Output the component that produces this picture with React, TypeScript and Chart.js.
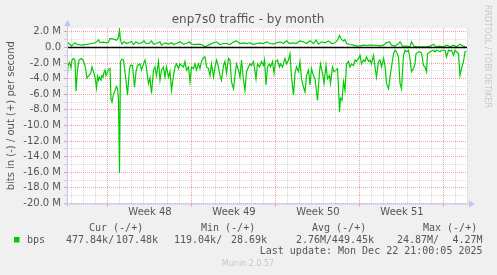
import React, { useEffect, useRef } from "react";
import { Chart, registerables } from "chart.js";

Chart.register(...registerables);

// ---------- data ----------
const TITLE = "enp7s0 traffic - by month";
const Y_TITLE = "bits in (-) / out (+) per second";

const windowHours = 800; // x axis spans 800 hours (one sample ≈ 2 h)
const weekLabels = ["Week 48", "Week 49", "Week 50", "Week 51"];
const weekLabelHours = [166, 334, 502, 670];
const weekStartHours = [80, 248, 416, 584, 752];

const yMin = -20;
const yMax = 2.5;
const yMajorTicks = [2, 0, -2, -4, -6, -8, -10, -12, -14, -16, -18, -20];
const yMinorTicks = [1, -1, -3, -5, -7, -9, -11, -13, -15, -17, -19];

// outbound (+), in M bits/s
const outHours = [0, 2, 6, 9, 13, 16, 19, 23, 29, 36, 43, 49, 56, 59, 63, 66, 73, 79, 83, 86, 93, 99, 103, 105, 107, 110, 114, 119, 125, 129, 133, 138, 143, 149, 154, 158, 164, 169, 173, 179, 186, 189, 196, 203, 209, 213, 219, 226, 233, 239, 245, 249, 256, 263, 269, 276, 283, 293, 299, 306, 313, 319, 326, 333, 339, 346, 353, 359, 366, 373, 379, 386, 393, 399, 406, 413, 419, 426, 433, 439, 445, 451, 458, 466, 473, 479, 486, 493, 498, 503, 509, 516, 523, 529, 536, 541, 545, 549, 553, 556, 559, 566, 573, 579, 586, 593, 599, 606, 613, 619, 626, 633, 639, 645, 649, 656, 663, 666, 671, 678, 686, 689, 694, 699, 706, 713, 719, 726, 733, 738, 745, 753, 759, 766, 773, 779, 786, 793, 797];
const outValues = [0.51, 0.6, 0.38, 0.17, 0.43, 0.6, 0.43, 0.38, 0.3, 0.38, 0.43, 0.51, 0.6, 0.73, 0.98, 0.64, 0.68, 0.6, 0.68, 1.15, 1.07, 0.94, 1.28, 2.31, 0.94, 0.43, 0.73, 0.51, 0.64, 0.77, 0.38, 0.73, 0.51, 0.6, 0.85, 0.51, 0.51, 0.85, 0.43, 0.51, 0.73, 0.3, 0.6, 0.43, 0.6, 0.38, 0.51, 0.73, 0.43, 0.51, 0.73, 0.43, 0.38, 0.43, 0.38, 0.09, 0.3, 0.6, 0.73, 0.38, 0.51, 0.51, 0.38, 0.73, 0.85, 0.51, 0.6, 0.51, 0.6, 0.38, 0.51, 0.6, 0.51, 0.73, 0.51, 0.43, 0.6, 0.73, 0.51, 0.85, 0.51, 0.6, 0.51, 0.85, 0.73, 0.51, 0.85, 0.51, 0.94, 0.43, 0.73, 0.6, 0.85, 0.51, 0.6, 0.94, 1.54, 1.03, 0.85, 1.03, 0.51, 0.38, 0.3, 0.17, 0.21, 0.3, 0.26, 0.3, 0.3, 0.26, 0.21, 0.3, 0.6, 0.73, 0.3, 0.17, 0.51, 0.73, 0.17, 0.17, 0.09, 0.73, 0.17, 0.09, 0.09, 0.09, 0.09, 0.17, 0.43, 0.09, 0.17, 0.09, 0.3, 0.09, 0.3, 0.09, 0.43, 0.17, 0.09];

// inbound (-), in M bits/s
const inHours = [0, 2, 5, 8, 10, 13, 16, 18, 21, 24, 28, 32, 36, 40, 44, 48, 50, 52, 56, 59, 61, 63, 65, 68, 70, 72, 74, 76, 78, 80, 83, 86, 88, 90, 93, 96, 99, 101, 103, 105, 107, 110, 113, 118, 121, 125, 127, 131, 135, 138, 141, 146, 149, 153, 156, 159, 163, 166, 169, 173, 176, 179, 183, 186, 189, 193, 196, 199, 203, 206, 209, 213, 216, 219, 223, 226, 229, 233, 236, 239, 243, 246, 249, 253, 256, 259, 263, 266, 269, 273, 276, 279, 283, 286, 289, 293, 296, 299, 303, 306, 309, 313, 316, 319, 323, 326, 329, 333, 336, 339, 343, 346, 349, 353, 356, 359, 363, 366, 369, 373, 376, 378, 381, 385, 389, 393, 395, 398, 401, 405, 407, 411, 414, 417, 421, 425, 427, 431, 436, 439, 443, 446, 449, 453, 456, 459, 463, 466, 469, 473, 476, 479, 483, 486, 489, 493, 496, 501, 505, 507, 511, 514, 518, 521, 525, 527, 531, 534, 538, 541, 543, 545, 547, 550, 553, 556, 559, 563, 566, 569, 573, 576, 579, 583, 586, 589, 593, 596, 599, 603, 606, 609, 613, 616, 619, 623, 626, 629, 633, 636, 639, 643, 646, 649, 653, 656, 659, 663, 666, 669, 673, 676, 679, 683, 686, 689, 693, 696, 698, 703, 706, 709, 713, 716, 719, 721, 726, 729, 733, 736, 739, 743, 746, 749, 753, 756, 759, 763, 766, 769, 773, 776, 779, 783, 786, 789, 793, 796, 799];
const inValues = [-4.8, -2.3, -1.9, -2.6, -1.6, -1.4, -1.6, -5.6, -2.9, -1.6, -1.4, -1.6, -2.3, -3.9, -3.6, -3.2, -2.5, -2.9, -3.8, -5.2, -3.7, -4.2, -3.8, -4.2, -3.6, -3.8, -3.2, -2.9, -3.6, -3.3, -2.8, -2.7, -6.6, -7.0, -6.0, -5.5, -5.0, -5.3, -6.6, -16.1, -1.8, -1.5, -1.6, -4.2, -6.1, -2.7, -2.3, -2.3, -5.1, -3.1, -2.3, -2.1, -2.9, -2.1, -1.6, -2.7, -4.6, -3.9, -5.9, -2.9, -2.5, -3.6, -1.8, -4.2, -2.9, -2.5, -3.8, -2.5, -3.8, -3.1, -5.5, -3.6, -2.5, -2.1, -2.7, -2.1, -2.3, -2.5, -1.8, -2.9, -2.5, -4.4, -2.5, -2.7, -2.1, -2.9, -2.1, -2.7, -1.8, -1.3, -1.2, -2.5, -2.7, -3.6, -2.1, -3.8, -2.5, -1.6, -2.5, -3.6, -4.2, -2.3, -1.8, -3.3, -1.4, -1.6, -4.4, -5.3, -3.6, -2.1, -2.9, -3.8, -1.6, -4.2, -5.5, -3.1, -2.5, -2.1, -2.3, -1.8, -3.1, -4.0, -2.1, -2.5, -1.8, -2.3, -1.6, -4.8, -2.5, -2.1, -2.5, -1.8, -3.3, -1.8, -1.6, -2.5, -2.1, -2.5, -1.4, -2.1, -1.6, -0.8, -3.8, -6.1, -3.3, -2.5, -3.1, -1.8, -4.0, -5.1, -5.7, -3.6, -2.9, -4.8, -2.7, -3.6, -4.0, -6.8, -3.1, -2.1, -3.3, -4.6, -2.3, -4.0, -3.6, -4.6, -2.5, -3.1, -2.9, -2.7, -5.1, -8.3, -6.5, -6.8, -4.4, -5.5, -2.1, -1.8, -2.5, -2.1, -2.3, -1.6, -1.8, -1.4, -1.0, -2.1, -1.6, -1.8, -1.2, -1.8, -1.6, -2.1, -1.0, -2.5, -3.8, -1.8, -1.6, -2.5, -1.4, -2.3, -4.6, -5.3, -3.8, -2.5, -0.8, -0.35, -0.55, -1.2, -4.6, -5.3, -1.0, -0.35, -0.55, -0.35, -1.4, -3.1, -2.7, -2.1, -0.8, -0.55, -0.55, -0.7, -2.3, -2.5, -3.1, -0.8, -0.55, -0.45, -0.35, -0.55, -0.35, -0.45, -0.55, -0.35, -0.35, -0.35, -1.2, -0.35, -0.45, -0.35, -1.0, -0.35, -0.55, -0.8, -3.6, -2.7, -1.8, -0.55, -0.45];

const legendHeaders = ["Cur (-/+)", "Min (-/+)", "Avg (-/+)", "Max (-/+)"];
const legendIn = ["477.84k/", "119.04k/", "2.76M/", "24.87M/"];
const legendOut = ["107.48k", "28.69k", "449.45k", "4.27M"];
const seriesName = "bps";
const lastUpdate = "Last update: Mon Dec 22 21:00:05 2025";
const version = "Munin 2.0.57";
const watermark = "RRDTOOL / TOBI OETIKER";

// ---------- styles ----------
const GREEN = "#00cc00";
const MAJOR = "rgba(220, 90, 90, 0.55)";
const MINOR = "rgba(160, 160, 160, 0.4)";
const AXIS = "#c4c4f4";
const TEXT = "#555555";
const SANS = "'DejaVu Sans', sans-serif";
const MONO = "'DejaVu Sans Mono', monospace";

// x grid ticks: daily lines aligned on week starts, plus label positions
const dayLines: number[] = [];
for (let h = weekStartHours[0] % 24; h <= windowHours; h += 24) dayLines.push(h);
const xTickValues = [...dayLines, ...weekLabelHours].sort((a, b) => a - b);
const yTickValues = [...yMajorTicks, ...yMinorTicks].sort((a, b) => a - b);

const fmtY = (v: number) => (v === 0 ? "0.0" : `${v.toFixed(1)} M`);

const muninPlugin = {
  id: "muninDecor",
  beforeDraw(chart: any) {
    const { ctx, chartArea: a } = chart;
    ctx.save();
    ctx.fillStyle = "#f0f0f0";
    ctx.fillRect(0, 0, chart.width, chart.height);
    ctx.fillStyle = "#ffffff";
    ctx.fillRect(a.left, a.top, a.right - a.left, a.bottom - a.top);
    ctx.restore();
  },
  afterDatasetsDraw(chart: any) {
    const { ctx, chartArea: a, scales } = chart;
    const y0 = scales.y.getPixelForValue(0);
    ctx.save();
    ctx.strokeStyle = "#000000";
    ctx.lineWidth = 1.5;
    ctx.beginPath();
    ctx.moveTo(a.left, y0);
    ctx.lineTo(a.right, y0);
    ctx.stroke();
    ctx.restore();
  },
  afterDraw(chart: any) {
    const { ctx, chartArea: a } = chart;
    ctx.save();
    // axes with arrows
    ctx.strokeStyle = AXIS;
    ctx.fillStyle = AXIS;
    ctx.lineWidth = 1;
    ctx.beginPath();
    ctx.moveTo(a.left + 0.5, a.bottom + 3);
    ctx.lineTo(a.left + 0.5, a.top - 3);
    ctx.moveTo(a.left - 3, a.bottom + 0.5);
    ctx.lineTo(a.right + 3, a.bottom + 0.5);
    ctx.stroke();
    ctx.beginPath();
    ctx.moveTo(a.left + 0.5, a.top - 8);
    ctx.lineTo(a.left - 3, a.top - 2);
    ctx.lineTo(a.left + 4, a.top - 2);
    ctx.closePath();
    ctx.fill();
    ctx.beginPath();
    ctx.moveTo(a.right + 8, a.bottom + 0.5);
    ctx.lineTo(a.right + 2, a.bottom - 3);
    ctx.lineTo(a.right + 2, a.bottom + 4);
    ctx.closePath();
    ctx.fill();

    // title
    ctx.fillStyle = TEXT;
    ctx.font = `12px ${SANS}`;
    ctx.textAlign = "center";
    ctx.textBaseline = "alphabetic";
    ctx.fillText(TITLE, 248, 22.5);

    // legend
    ctx.font = `10px ${MONO}`;
    ctx.textBaseline = "middle";
    ctx.textAlign = "left";
    const headX = [89, 201, 312, 423];
    legendHeaders.forEach((t, i) => ctx.fillText(t, headX[i], 228));
    ctx.fillStyle = GREEN;
    ctx.fillRect(14, 237, 5.5, 5.5);
    ctx.fillStyle = TEXT;
    ctx.fillText(seriesName, 27, 240);
    const inX = [66, 174, 296, 397];
    const outX = [158, 267, 374, 482.5];
    legendIn.forEach((t, i) => {
      ctx.textAlign = "left";
      ctx.fillText(t, inX[i], 240);
      ctx.textAlign = "right";
      ctx.fillText(legendOut[i], outX[i], 240);
    });
    ctx.textAlign = "right";
    ctx.fillText(lastUpdate, 482.5, 251.5);

    // version
    ctx.fillStyle = "#c8c8c8";
    ctx.font = `8px ${SANS}`;
    ctx.textAlign = "center";
    ctx.fillText(version, 248, 264);

    // vertical watermark
    ctx.translate(487, 5);
    ctx.rotate(Math.PI / 2);
    ctx.textAlign = "left";
    ctx.textBaseline = "middle";
    ctx.font = `8px ${SANS}`;
    ctx.fillStyle = "#c8c8c8";
    ctx.fillText(watermark, 0, 0);
    ctx.restore();
  },
};

export default function App() {
  const ref = useRef<HTMLCanvasElement | null>(null);

  useEffect(() => {
    if (!ref.current) return;
    const chart = new Chart(ref.current, {
      type: "line",
      data: {
        datasets: [
          {
            label: "in",
            data: inHours.map((h, i) => ({ x: h, y: inValues[i] })),
            borderColor: GREEN,
            borderWidth: 1.2,
            pointRadius: 0,
            tension: 0,
            fill: false,
          },
          {
            label: "out",
            data: outHours.map((h, i) => ({ x: h, y: outValues[i] })),
            borderColor: GREEN,
            borderWidth: 1.2,
            pointRadius: 0,
            tension: 0,
            fill: false,
          },
        ],
      },
      options: {
        responsive: false,
        animation: false,
        devicePixelRatio: 1,
        layout: { padding: { left: 0, top: 28, right: 30, bottom: 0 } },
        plugins: { legend: { display: false }, tooltip: { enabled: false } },
        scales: {
          x: {
            type: "linear",
            min: 0,
            max: windowHours,
            afterBuildTicks: (s: any) => {
              s.ticks = xTickValues.map((v) => ({ value: v }));
            },
            afterFit: (s: any) => {
              s.height = 71.5;
            },
            border: { display: false, dash: [1, 1] },
            grid: {
              color: (c: any) => {
                const v = c.tick?.value;
                if (weekStartHours.includes(v)) return MAJOR;
                if (weekLabelHours.includes(v)) return "rgba(0,0,0,0)";
                return MINOR;
              },
              tickColor: (c: any) => {
                const v = c.tick?.value;
                if (weekStartHours.includes(v)) return MAJOR;
                return "rgba(0,0,0,0)";
              },
              tickLength: 3,
              lineWidth: 1,
            },
            ticks: {
              autoSkip: false,
              maxRotation: 0,
              padding: 0,
              color: TEXT,
              font: { family: SANS, size: 10 },
              callback: (v: any) => {
                const i = weekLabelHours.indexOf(Number(v));
                return i >= 0 ? weekLabels[i] : "";
              },
            },
          },
          y: {
            type: "linear",
            min: yMin,
            max: yMax,
            afterBuildTicks: (s: any) => {
              s.ticks = yTickValues.map((v) => ({ value: v }));
            },
            afterFit: (s: any) => {
              s.width = 67;
            },
            border: { display: false, dash: [1, 1] },
            grid: {
              color: (c: any) => (yMajorTicks.includes(c.tick?.value) ? MAJOR : MINOR),
              tickColor: (c: any) => (yMajorTicks.includes(c.tick?.value) ? MAJOR : MINOR),
              tickLength: 3,
              lineWidth: 1,
            },
            ticks: {
              autoSkip: false,
              padding: 3,
              color: TEXT,
              font: { family: SANS, size: 10 },
              callback: (v: any) => (yMajorTicks.includes(Number(v)) ? fmtY(Number(v)) : ""),
            },
            title: {
              display: true,
              text: Y_TITLE,
              color: TEXT,
              font: { family: SANS, size: 10 },
              padding: { top: 5, bottom: 0 },
            },
          },
        },
      },
      plugins: [muninPlugin],
    });
    return () => chart.destroy();
  }, []);

  return (
    <div style={{ position: "fixed", left: 0, top: 0, width: 497, height: 275, background: "#f0f0f0" }}>
      <canvas ref={ref} width={497} height={275} style={{ display: "block" }} />
    </div>
  );
}
